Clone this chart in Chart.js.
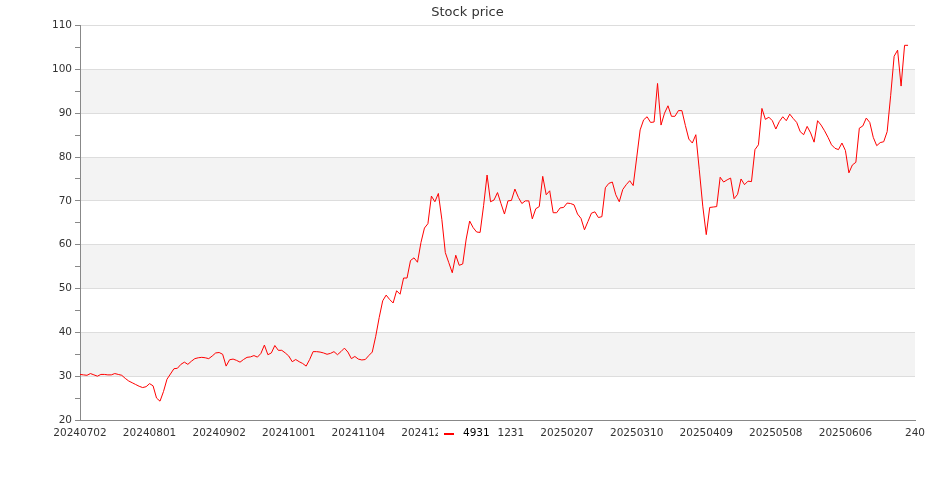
<!DOCTYPE html>
<html>
<head>
<meta charset="utf-8">
<title>Stock price</title>
<script src="https://cdn.jsdelivr.net/npm/chart.js@4.4.1/dist/chart.umd.min.js"></script>
<style>
    body { margin: 0; background: #fff; }
</style>
</head>
<body>
<canvas id="grafico-preco" width="935" height="500"></canvas>
<script>
// ticker name shown in the legend
const seriesName = '4931';

// tick labels on the bottom axis, one every 20 points
const xTickLabels = ['20240702', '20240801', '20240902', '20241001', '20241104', '20241202',
    '20241231', '20250207', '20250310', '20250409', '20250508', '20250606', '240'];

// closing prices, one per trading day
const prices = [
    30.4, 30.3, 30.2, 30.6, 30.3, 30.0, 30.4, 30.4, 30.3, 30.3,
    30.6, 30.4, 30.2, 29.5, 28.9, 28.5, 28.1, 27.7, 27.4, 27.6,
    28.3, 27.8, 25.0, 24.3, 26.5, 29.3, 30.5, 31.7, 31.8, 32.7,
    33.2, 32.7, 33.4, 34.0, 34.2, 34.3, 34.2, 34.0, 34.6, 35.3,
    35.4, 35.0, 32.3, 33.75, 33.9, 33.6, 33.2, 33.8, 34.3, 34.4,
    34.7, 34.35, 35.2, 37.1, 34.9, 35.3, 37.0, 35.9, 35.9, 35.3,
    34.6, 33.3, 33.8, 33.3, 32.9, 32.3, 33.8, 35.6, 35.6, 35.5,
    35.3, 35.0, 35.2, 35.6, 34.9, 35.6, 36.4, 35.5, 34.0, 34.5,
    33.9, 33.7, 33.8, 34.7, 35.5, 39.1, 43.4, 47.2, 48.5, 47.5,
    46.7, 49.5, 48.7, 52.4, 52.4, 56.4, 57.0, 56.0, 60.5, 63.8,
    64.8, 71.1, 69.8, 71.7, 65.8, 58.2, 55.9, 53.6, 57.6, 55.3,
    55.6, 61.3, 65.4, 63.9, 62.9, 62.8, 68.9, 75.9, 69.8, 70.2,
    71.9, 69.4, 67.0, 70.0, 70.1, 72.7, 70.8, 69.4, 70.0, 70.0,
    65.9, 68.2, 68.7, 75.6, 71.4, 72.3, 67.3, 67.3, 68.4, 68.5,
    69.5, 69.4, 69.1, 67.0, 66.0, 63.4, 65.3, 67.2, 67.5, 66.2,
    66.4, 73.0, 74.0, 74.3, 71.4, 69.8, 72.6, 73.7, 74.6, 73.5,
    79.8, 86.2, 88.5, 89.2, 87.9, 88.0, 96.8, 87.3, 90.0, 91.7,
    89.3, 89.3, 90.6, 90.6, 87.2, 84.1, 83.2, 85.1, 77.1, 68.8,
    62.3, 68.5, 68.6, 68.7, 75.4, 74.3, 74.8, 75.2, 70.5, 71.5,
    75.0, 73.7, 74.5, 74.4, 81.7, 82.8, 91.1, 88.6, 89.1, 88.3,
    86.4, 88.1, 89.2, 88.3, 89.8, 88.8, 87.9, 85.8, 85.1, 87.0,
    85.5, 83.4, 88.3, 87.3, 86.0, 84.5, 82.8, 82.0, 81.7, 83.2,
    81.5, 76.4, 78.2, 78.8, 86.6, 87.1, 88.9, 87.9, 84.5, 82.6,
    83.3, 83.5, 85.8, 94.0, 103.0, 104.4, 96.2, 105.5, 105.5
];

Chart.defaults.font.family = "'DejaVu Sans', sans-serif";
Chart.defaults.color = '#333';

/**
 * grey bands between every other pair of y gridlines
 */
const bandas = {
    id: 'bandas',
    beforeDraw(chart) {
        const ctx = chart.ctx;
        const area = chart.chartArea;
        const y = chart.scales.y;
        ctx.save();
        ctx.fillStyle = '#f3f3f3';
        for (let v = 30; v < y.max; v += 20) {
            const top = y.getPixelForValue(v + 10);
            const bottom = y.getPixelForValue(v);
            ctx.fillRect(area.left, top, area.right - area.left, bottom - top);
        }
        ctx.restore();
    }
};

/**
 * legend drawn over the x tick labels, like the original
 */
const legendaBaixo = {
    id: 'legendaBaixo',
    afterDraw(chart) {
        const ctx = chart.ctx;
        const ds = chart.data.datasets[0];
        ctx.save();
        ctx.font = "10.5px 'DejaVu Sans'";
        const textW = ctx.measureText(ds.label).width;
        const boxW = 6 + 10 + 9 + textW + 8;
        const left = Math.round(chart.width / 2 - boxW / 2);
        const cy = 434;
        ctx.fillStyle = '#fff';
        ctx.fillRect(left, cy - 8, boxW, 16);
        ctx.strokeStyle = ds.borderColor;
        ctx.lineWidth = 2;
        ctx.beginPath();
        ctx.moveTo(left + 6, cy);
        ctx.lineTo(left + 16, cy);
        ctx.stroke();
        ctx.fillStyle = '#000';
        ctx.textBaseline = 'middle';
        ctx.fillText(ds.label, left + 25, cy - 1);
        ctx.restore();
    }
};

var grafico = new Chart(document.getElementById('grafico-preco'), {
    type: 'line',
    data: {
        datasets: [{
            label: seriesName,
            data: prices.map((p, i) => ({ x: i, y: p })),
            borderColor: '#ff0000',
            borderWidth: 1,
            pointRadius: 0,
            tension: 0,
            fill: false
        }]
    },
    options: {
        responsive: false,
        animation: false,
        layout: {
            padding: 0
        },
        plugins: {
            legend: { display: false },
            tooltip: { enabled: false },
            title: {
                display: true,
                text: 'Stock price',
                color: '#333',
                font: { size: 13, weight: 'normal' },
                padding: { top: 5, bottom: 5 }
            }
        },
        scales: {
            x: {
                type: 'linear',
                min: 0,
                max: 240,
                afterFit: function (scale) {
                    scale.height = 80;
                    scale.paddingRight = 20;
                },
                border: { display: true, color: '#888', width: 1 },
                grid: { display: true, drawOnChartArea: false, drawTicks: false },
                ticks: {
                    stepSize: 20,
                    autoSkip: false,
                    maxRotation: 0,
                    padding: 7,
                    color: '#333',
                    font: { size: 10.5 },
                    callback: function (value) {
                        return xTickLabels[value / 20];
                    }
                }
            },
            y: {
                min: 20,
                max: 110,
                afterFit: function (scale) { scale.width = 80; },
                border: { display: true, color: '#888', width: 1 },
                grid: {
                    color: ctx => (ctx.tick && ctx.tick.value % 10 === 0) ? '#dddddd' : 'rgba(0,0,0,0)',
                    tickColor: '#888',
                    tickLength: 5
                },
                ticks: {
                    stepSize: 5,
                    padding: 3,
                    color: '#333',
                    font: { size: 10.5 },
                    callback: function (value) {
                        return value % 10 === 0 ? value : '';
                    }
                }
            }
        }
    },
    plugins: [bandas, legendaBaixo]
});
</script>
</body>
</html>
